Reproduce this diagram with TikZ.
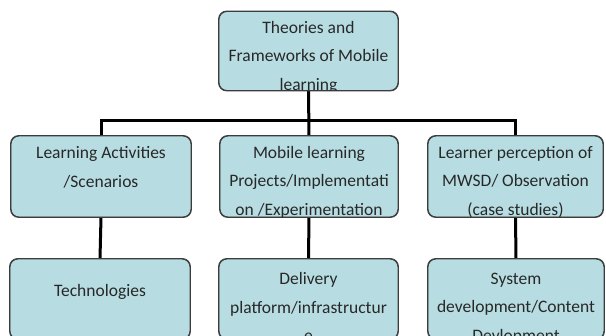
\documentclass[tikz,border=0pt]{standalone}
\usepackage{fontspec}
\setmainfont{Carlito}
\usetikzlibrary{backgrounds}
\definecolor{boxfill}{RGB}{183,221,226}
\definecolor{boxline}{RGB}{60,60,60}
\definecolor{txt}{RGB}{40,40,40}
\tikzset{
  x=1pt, y=-1pt,
  box/.style={draw=boxline, fill=boxfill, line width=0.9pt, rounded corners=8pt, inner sep=0pt, minimum width=179pt, minimum height=79pt},
  lbl/.style={anchor=north, inner sep=0pt, text height=0pt, align=center, text=txt, font=\fontsize{17.5}{28.5}\selectfont},
  conn/.style={line width=3pt, black},
}
% #2 = baseline of the LAST line
\newcommand{\boxtext}[3]{%
  \begin{scope}
    \clip[rounded corners=8pt] (#1.south west) rectangle (#1.north east);
    \node[lbl] at (#1.center |- 0,#2) {#3};
  \end{scope}
  \draw[boxline, line width=0.9pt, rounded corners=8pt] (#1.south west) rectangle (#1.north east);
}
\begin{document}
\begin{tikzpicture}
\useasboundingbox (0,0) rectangle (606,336);
\coordinate (bar) at (0,121);
% boxes
\node[box] (T) at (308.5,51) {};
\node[box, minimum width=180pt, minimum height=81pt] (L) at (101,176.5) {};
\node[box, minimum width=178pt, minimum height=81pt] (M) at (309,176.5) {};
\node[box, minimum width=175pt, minimum height=81pt] (R) at (515.5,176.5) {};
\node[box, minimum width=180pt, minimum height=80pt] (L2) at (100,299) {};
\node[box, minimum width=179pt, minimum height=80pt] (M2) at (308.5,299) {};
\node[box, minimum width=176pt, minimum height=80pt] (R2) at (516,299) {};
% connectors
\begin{scope}[on background layer]
\fill[white] (0,0) rectangle (606,336);
\draw[conn] (T.south) -- (M.north);
\draw[conn] (L.north) -- (L.north |- bar) -- (R.north |- bar) -- (R.north);
\draw[conn] (L.south) -- (L2.north);
\draw[conn] (M.south) -- (M2.north);
\draw[conn] (R.south) -- (R2.north);
\end{scope}
% texts
\boxtext{T}{90}{Theories and\\Frameworks of Mobile\\learning}
\boxtext{L}{187}{Learning Activities\\/Scenarios}
\boxtext{M}{215}{Mobile learning\\Projects/Implementati\\on /Experimentation}
\boxtext{R}{215}{Learner perception of\\MWSD/ Observation\\(case studies)}
\boxtext{L2}{296}{Technologies}
\boxtext{M2}{341}{Delivery\\platform/infrastructur\\e}
\boxtext{R2}{341}{System\\development/Content\\Devlopment}
\end{tikzpicture}
\end{document}
